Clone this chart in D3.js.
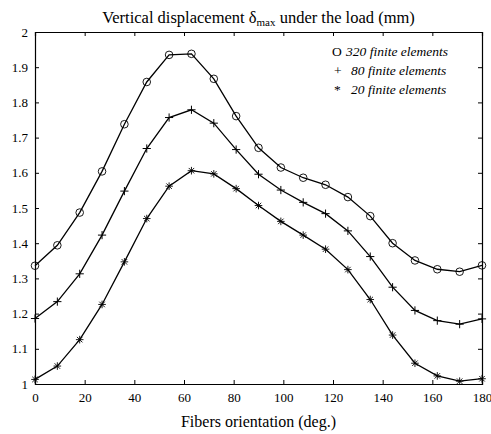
<!DOCTYPE html>
<html>
<head>
<meta charset="utf-8">
<script src="https://cdn.jsdelivr.net/npm/d3@7"></script>
<style>
  body { margin: 0; background: #fff; }
  svg, svg text { font-family: "Liberation Serif", "Times New Roman", serif !important; }
</style>
</head>
<body>
<div id="chart"></div>
<script>
// fiber angle (deg.)
var angles = [0, 9, 18, 27, 36, 45, 54, 63, 72, 81, 90, 99, 108, 117, 126, 135, 144, 153, 162, 171, 180];

// max vertical displacement (mm)
var fe320 = [1.336, 1.394, 1.487, 1.604, 1.738, 1.858, 1.935, 1.938, 1.867, 1.761, 1.671,
             1.615, 1.586, 1.566, 1.531, 1.477, 1.400, 1.351, 1.326, 1.319, 1.337];
var fe80 = [1.186, 1.234, 1.313, 1.423, 1.548, 1.669, 1.757, 1.779, 1.741, 1.666, 1.596,
            1.551, 1.516, 1.484, 1.435, 1.362, 1.275, 1.209, 1.180, 1.170, 1.185];
var fe20 = [1.013, 1.051, 1.126, 1.226, 1.347, 1.470, 1.562, 1.606, 1.597, 1.555, 1.507,
            1.462, 1.423, 1.383, 1.325, 1.240, 1.139, 1.059, 1.023, 1.008, 1.015];

var xTicks = [0, 20, 40, 60, 80, 100, 120, 140, 160, 180];
var yTicks = [1, 1.1, 1.2, 1.3, 1.4, 1.5, 1.6, 1.7, 1.8, 1.9, 2];

var series = [
  { sym: "O", label: "320 finite elements", marker: "circle", values: fe320 },
  { sym: "+", label: "80 finite elements", marker: "plus", values: fe80 },
  { sym: "*", label: "20 finite elements", marker: "star", values: fe20 }
];

var width = 491, height = 434;
var margin = { top: 32, right: 9, bottom: 50, left: 35 };

var svg = d3.select("#chart").append("svg")
  .attr("width", width)
  .attr("height", height);

var x = d3.scaleLinear().domain([0, 180]).range([margin.left, width - margin.right]);
var y = d3.scaleLinear().domain([1, 2]).range([height - margin.bottom, margin.top]);

var fmt = function (d) { return String(+d.toFixed(1)); };

// axes, ticks pointing inward on all four sides
svg.append("g")
  .attr("transform", "translate(0," + y(1) + ")")
  .call(d3.axisBottom(x).tickValues(xTicks).tickSize(-4).tickPadding(9).tickFormat(d3.format("d")));
svg.append("g")
  .attr("transform", "translate(0," + y(2) + ")")
  .call(d3.axisTop(x).tickValues(xTicks).tickSize(-4).tickFormat(""));
svg.append("g")
  .attr("transform", "translate(" + x(0) + ",0)")
  .call(d3.axisLeft(y).tickValues(yTicks).tickSize(-4).tickPadding(7).tickFormat(fmt));
svg.append("g")
  .attr("transform", "translate(" + x(180) + ",0)")
  .call(d3.axisRight(y).tickValues(yTicks).tickSize(-4).tickFormat(""));

svg.selectAll(".tick text").attr("fill", "#000").style("font-size", "13px");
svg.selectAll(".domain").attr("stroke", "#000").attr("stroke-width", 1.2);
svg.selectAll(".tick line").attr("stroke", "#000");

var line = d3.line().x((d, i) => x(angles[i])).y(d => y(d));

function drawMarker(g, type) {
  var r = 3.8;
  if (type === "circle") {
    g.append("circle").attr("r", r).attr("fill", "none").attr("stroke", "#000").attr("stroke-width", 0.9);
  } else if (type === "plus") {
    g.append("path").attr("d", "M" + (-r - 0.3) + ",0H" + (r + 0.3) + "M0," + (-r - 0.3) + "V" + (r + 0.3))
      .attr("stroke", "#000").attr("stroke-width", 1);
  } else {
    var a = r * 0.72;
    g.append("path").attr("d", "M" + (-r) + ",0H" + r + "M0," + (-r) + "V" + r +
      "M" + (-a) + "," + (-a) + "L" + a + "," + a + "M" + (-a) + "," + a + "L" + a + "," + (-a))
      .attr("stroke", "#000").attr("stroke-width", 0.9);
  }
}

series.forEach(function (s) {
  svg.append("path")
    .datum(s.values)
    .attr("d", line)
    .attr("fill", "none")
    .attr("stroke", "#000")
    .attr("stroke-width", 1.3);
  svg.append("g").selectAll("g")
    .data(s.values)
    .join("g")
    .attr("transform", (d, i) => "translate(" + x(angles[i]) + "," + y(d) + ")")
    .each(function () { drawMarker(d3.select(this), s.marker); });
});

// legend
var leg = svg.append("g").style("font-size", "13.5px");
series.forEach(function (s, i) {
  var t = leg.append("text")
    .attr("x", i === 0 ? 332 : 334)
    .attr("y", 56 + i * 19);
  t.append("tspan").text(s.sym);
  t.append("tspan").attr("x", i === 0 ? 346 : 351).attr("font-style", "italic").text(s.label);
});

// title
var title = svg.append("text")
  .attr("x", (x(0) + x(180)) / 2)
  .attr("y", 23)
  .attr("text-anchor", "middle")
  .style("font-size", "16.5px");
title.append("tspan").text("Vertical displacement \u03b4");
title.append("tspan").style("font-size", "11px").attr("dy", 3).text("max");
title.append("tspan").attr("dy", -3).text(" under the load (mm)");

svg.append("text")
  .attr("x", (x(0) + x(180)) / 2)
  .attr("y", 427)
  .attr("text-anchor", "middle")
  .style("font-size", "16px")
  .text("Fibers orientation (deg.)");
</script>
</body>
</html>
